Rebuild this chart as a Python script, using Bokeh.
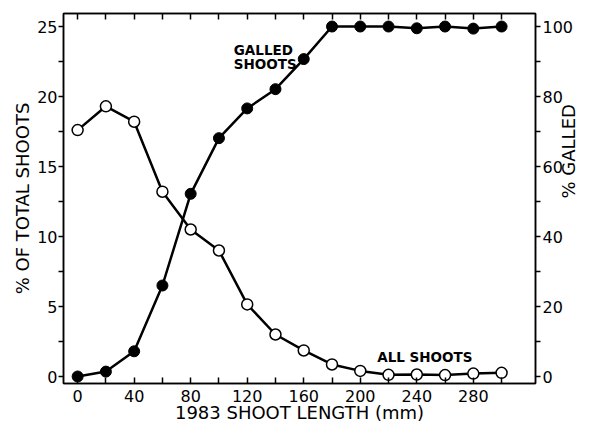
import math
from bokeh.plotting import figure
from bokeh.models import Range1d, LinearAxis, FixedTicker, Label
from bokeh.embed import file_html
from bokeh.resources import INLINE

# ---- data ----
length_mm = [0, 20, 40, 60, 80, 100, 120, 140, 160, 180, 200, 220, 240, 260, 280, 300]
all_shoots_pct = [17.6, 19.3, 18.2, 13.2, 10.5, 9.0, 5.15, 3.0, 1.86, 0.86, 0.4, 0.12, 0.14, 0.1, 0.21, 0.26]
galled_pct = [0.0, 1.4, 7.2, 26.0, 52.2, 68.1, 76.6, 82.1, 90.7, 100.0, 100.0, 100.0, 99.5, 100.0, 99.4, 100.0]

x_label_ticks = [0, 40, 80, 120, 160, 200, 240, 280]
x_minor_ticks = [20, 60, 100, 140, 180, 220, 260, 300]
x_all_ticks = sorted(x_label_ticks + x_minor_ticks)
left_label_ticks = [0, 5, 10, 15, 20, 25]
left_minor_ticks = [2.5, 7.5, 12.5, 17.5, 22.5]
right_label_ticks = [0, 20, 40, 60, 80, 100]
right_minor_ticks = [10, 30, 50, 70, 90]

x_title = "1983 SHOOT LENGTH (mm)"
left_title = "% OF TOTAL SHOOTS"
right_title = "% GALLED"

FONT = "DejaVu Sans"
TS = "18px"

p = figure(width=593, height=425, output_backend="svg", toolbar_location=None,
           x_range=Range1d(-10, 324), y_range=Range1d(-0.5, 25.93),
           min_border_left=63, min_border_right=58, min_border_top=13, min_border_bottom=42)
p.extra_y_ranges = {"galled": Range1d(-2.0, 103.72)}
p.grid.visible = False
p.outline_line_color = "black"
p.outline_line_width = 1.5
p.background_fill_color = "white"
p.border_fill_color = "white"

def style(ax, tin, tout):
    ax.axis_line_color = "black"
    ax.axis_line_width = 1.5
    ax.major_tick_line_color = "black"
    ax.major_tick_line_width = 1.5
    ax.minor_tick_line_color = "black"
    ax.minor_tick_line_width = 1.5
    ax.major_tick_in = tin
    ax.major_tick_out = tout
    ax.minor_tick_in = tin
    ax.minor_tick_out = tout
    ax.major_label_text_font = FONT
    ax.major_label_text_font_size = "16px"
    ax.major_label_text_color = "black"
    ax.axis_label_text_font = FONT
    ax.axis_label_text_font_size = TS
    ax.axis_label_text_font_style = "normal"
    ax.axis_label_text_color = "black"

# bottom axis
xb = p.xaxis[0]
xb.ticker = FixedTicker(ticks=x_label_ticks, minor_ticks=x_minor_ticks)
style(xb, 6, 0)
xb.major_label_standoff = 6
xb.axis_label = x_title
xb.axis_label_standoff = -3

# left axis
yl = p.yaxis[0]
yl.ticker = FixedTicker(ticks=left_label_ticks, minor_ticks=left_minor_ticks)
style(yl, 0, 5)
yl.major_label_standoff = 1
yl.axis_label = left_title
yl.axis_label_standoff = 1

# top axis (ticks only)
xt = LinearAxis(ticker=FixedTicker(ticks=[], minor_ticks=x_all_ticks))
style(xt, 6, 0)
p.add_layout(xt, "above")

# right axis (ticks and numbers)
yr = LinearAxis(y_range_name="galled",
                ticker=FixedTicker(ticks=right_label_ticks, minor_ticks=right_minor_ticks))
style(yr, 0, 5)
yr.major_label_standoff = 2
p.add_layout(yr, "right")

# right axis title, carried by a tick-less outer axis so it reads bottom-to-top
yr_title = LinearAxis(y_range_name="galled", ticker=FixedTicker(ticks=[]), bounds=(-2, 74))
style(yr_title, 0, 0)
yr_title.axis_line_color = None
yr_title.major_tick_line_color = None
yr_title.minor_tick_line_color = None
yr_title.axis_label = right_title
yr_title.axis_label_standoff = -8
if "axis_label_orientation" in yr_title.properties():
    yr_title.axis_label_orientation = math.pi / 2
p.add_layout(yr_title, "right")

# series
p.line(length_mm, all_shoots_pct, line_color="black", line_width=2.5)
p.scatter(length_mm, all_shoots_pct, size=11, marker="circle", fill_color="white",
          line_color="black", line_width=1.5)
p.line(length_mm, galled_pct, line_color="black", line_width=2.5, y_range_name="galled")
p.scatter(length_mm, galled_pct, size=11, marker="circle", fill_color="black",
          line_color="black", y_range_name="galled")

for txt, x, y in [("GALLED", 110.5, 23.3), ("SHOOTS", 110.5, 22.3), ("ALL SHOOTS", 212.0, 1.36)]:
    p.add_layout(Label(x=x, y=y, text=txt, text_font=FONT, text_font_size="13.5px",
                       text_font_style="bold", text_color="black", text_baseline="middle"))

open("out.html", "w").write(file_html(p, INLINE))
